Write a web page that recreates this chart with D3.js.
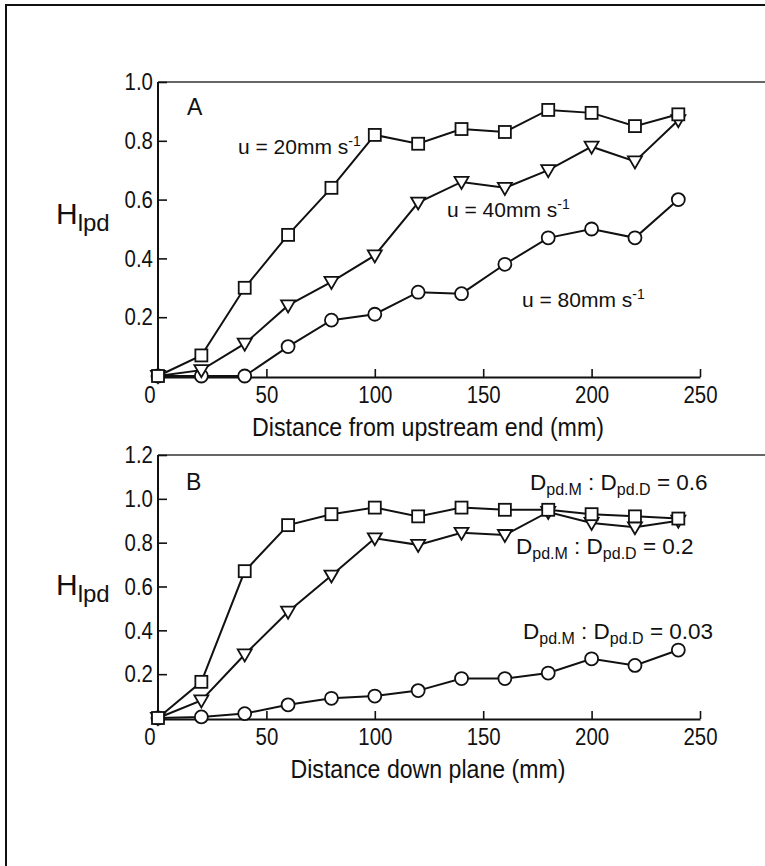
<!DOCTYPE html>
<html><head><meta charset="utf-8">
<script src="https://cdn.jsdelivr.net/npm/d3@7/dist/d3.min.js"></script>
<style>
html,body{margin:0;padding:0;background:#fff;}
svg{display:block;}
text{font-family:"Liberation Sans",Arial,sans-serif;fill:#111;}
</style></head>
<body>
<svg id="chart" width="765" height="866"></svg>
<script>
// ---- data ----
const distances = [0,20,40,60,80,100,120,140,160,180,200,220,240];
// Panel A: H_lpd vs distance from upstream end, for three flow velocities
const aU20 = [0.00,0.07,0.30,0.48,0.64,0.82,0.79,0.84,0.83,0.905,0.895,0.85,0.89];
const aU40 = [0.00,0.02,0.11,0.24,0.32,0.41,0.59,0.66,0.64,0.70,0.78,0.73,0.87];
const aU80 = [0.00,0.00,0.00,0.10,0.19,0.21,0.285,0.28,0.38,0.47,0.50,0.47,0.60];
// Panel B: H_lpd vs distance down plane, for three D ratios
const bR06  = [0.00,0.165,0.67,0.88,0.93,0.96,0.92,0.96,0.95,0.95,0.93,0.92,0.91];
const bR02  = [0.00,0.08,0.29,0.485,0.65,0.82,0.79,0.845,0.835,0.94,0.89,0.87,0.90];
const bR003 = [0.00,0.005,0.02,0.06,0.09,0.10,0.125,0.18,0.18,0.205,0.27,0.24,0.31];
const xTicks = [0,50,100,150,200,250];
const yTicksA = [0.2,0.4,0.6,0.8,1.0];
const yTicksB = [0.2,0.4,0.6,0.8,1.0,1.2];

const svg = d3.select("#chart");
// outer frame (left and top edges visible)
svg.append("rect").attr("x",6).attr("y",5).attr("width",800).attr("height",900)
  .attr("fill","none").attr("stroke","#111").attr("stroke-width",2);

const x = d3.scaleLinear().domain([0,250]).range([158,700]);
const yA = d3.scaleLinear().domain([0,1.0]).range([376,82]);
const yB = d3.scaleLinear().domain([0,1.2]).range([718,455]);
const SX = 0.85; // condensed look

function panel(y, yTicks, series, xTitle, titleLen, yTitleBase) {
  const g = svg.append("g");
  const y0 = y(0), yTop = y(yTicks[yTicks.length-1]);
  g.append("line").attr("x1",x(0)).attr("x2",x(0)).attr("y1",yTop).attr("y2",y0+1)
    .attr("stroke","#111").attr("stroke-width",2);
  g.append("line").attr("x1",x(0)).attr("x2",765).attr("y1",yTop).attr("y2",yTop)
    .attr("stroke","#333").attr("stroke-width",1.6);
  // y axis ticks (inward)
  const ay = g.append("g").attr("transform",`translate(${x(0)},0)`)
    .call(d3.axisLeft(y).tickValues(yTicks).tickSizeInner(-9).tickSizeOuter(0).tickPadding(6).tickFormat(d3.format(".1f")));
  ay.select(".domain").remove();
  ay.selectAll("line").attr("stroke","#111").attr("stroke-width",1.6);
  ay.selectAll("text").attr("font-size",24).attr("fill","#111")
    .attr("transform",`scale(${SX},1)`);
  // x axis
  const ax = g.append("g").attr("transform",`translate(0,${y0+1})`)
    .call(d3.axisBottom(x).tickValues(xTicks).tickSizeInner(-8).tickSizeOuter(0).tickPadding(9).tickFormat(d3.format("d")));
  ax.select(".domain").attr("stroke","#111").attr("stroke-width",1.8);
  ax.selectAll("line").attr("stroke","#111").attr("stroke-width",1.6);
  ax.selectAll("text").attr("font-size",24).attr("fill","#111")
    .attr("dx", d => d===0 ? -10 : 0)
    .attr("transform",`scale(${SX},1)`);
  // x title
  g.append("text").attr("x",428).attr("y",y0+60).attr("text-anchor","middle")
    .attr("font-size",25).attr("textLength",titleLen).attr("lengthAdjust","spacingAndGlyphs")
    .text(xTitle);
  // y title H_lpd
  const yt = g.append("text").attr("x",56).attr("y",yTitleBase).attr("font-size",30);
  yt.append("tspan").text("H");
  yt.append("tspan").attr("dy",7).attr("font-size",24).text("lpd");
  // series
  const line = d3.line().x((d,i)=>x(distances[i])).y(d=>y(d));
  series.forEach(s => {
    g.append("path").datum(s.values).attr("d",line).attr("fill","none")
      .attr("stroke","#111").attr("stroke-width",2);
  });
  series.forEach(s => {
    const pts = g.append("g");
    s.values.forEach((v,i) => {
      const cx = x(distances[i]), cy = y(v);
      if (s.shape === "square") {
        pts.append("rect").attr("x",cx-6).attr("y",cy-6).attr("width",12).attr("height",12)
          .attr("fill","#fff").attr("stroke","#111").attr("stroke-width",1.8);
      } else if (s.shape === "circle") {
        pts.append("circle").attr("cx",cx).attr("cy",cy).attr("r",6.5)
          .attr("fill","#fff").attr("stroke","#111").attr("stroke-width",1.8);
      } else {
        pts.append("path").attr("d",`M${cx-7},${cy-5}L${cx+7},${cy-5}L${cx},${cy+7}Z`)
          .attr("fill","#fff").attr("stroke","#111").attr("stroke-width",1.8);
      }
    });
  });
  return g;
}

const gA = panel(yA, yTicksA, [
  {values:aU80, shape:"circle"},
  {values:aU40, shape:"triangle"},
  {values:aU20, shape:"square"}
], "Distance from upstream end (mm)", 352, 224);

const gB = panel(yB, yTicksB, [
  {values:bR003, shape:"circle"},
  {values:bR02, shape:"triangle"},
  {values:bR06, shape:"square"}
], "Distance down plane (mm)", 275, 595);

// panel letters
gA.append("text").attr("x",187).attr("y",115).attr("font-size",23).text("A");
gB.append("text").attr("x",186).attr("y",490).attr("font-size",23).text("B");

// velocity labels
function uLabel(g, xp, yp, txt) {
  const t = g.append("text").attr("x",xp).attr("y",yp).attr("font-size",21);
  t.append("tspan").text(txt);
  t.append("tspan").attr("dy",-8).attr("font-size",14).text("-1");
}
uLabel(gA, 238, 154, "u = 20mm s");
uLabel(gA, 447, 217, "u = 40mm s");
uLabel(gA, 522, 307, "u = 80mm s");

function dLabel(g, xp, yp, val) {
  const t = g.append("text").attr("x",xp).attr("y",yp).attr("font-size",22.5);
  t.append("tspan").text("D");
  t.append("tspan").attr("dy",5).attr("font-size",16).text("pd.M");
  t.append("tspan").attr("dy",-5).text(" : D");
  t.append("tspan").attr("dy",5).attr("font-size",16).text("pd.D");
  t.append("tspan").attr("dy",-5).text(" = " + val);
}
dLabel(gB, 530, 490, "0.6");
dLabel(gB, 516, 554, "0.2");
dLabel(gB, 523, 639, "0.03");
</script>
</body></html>
